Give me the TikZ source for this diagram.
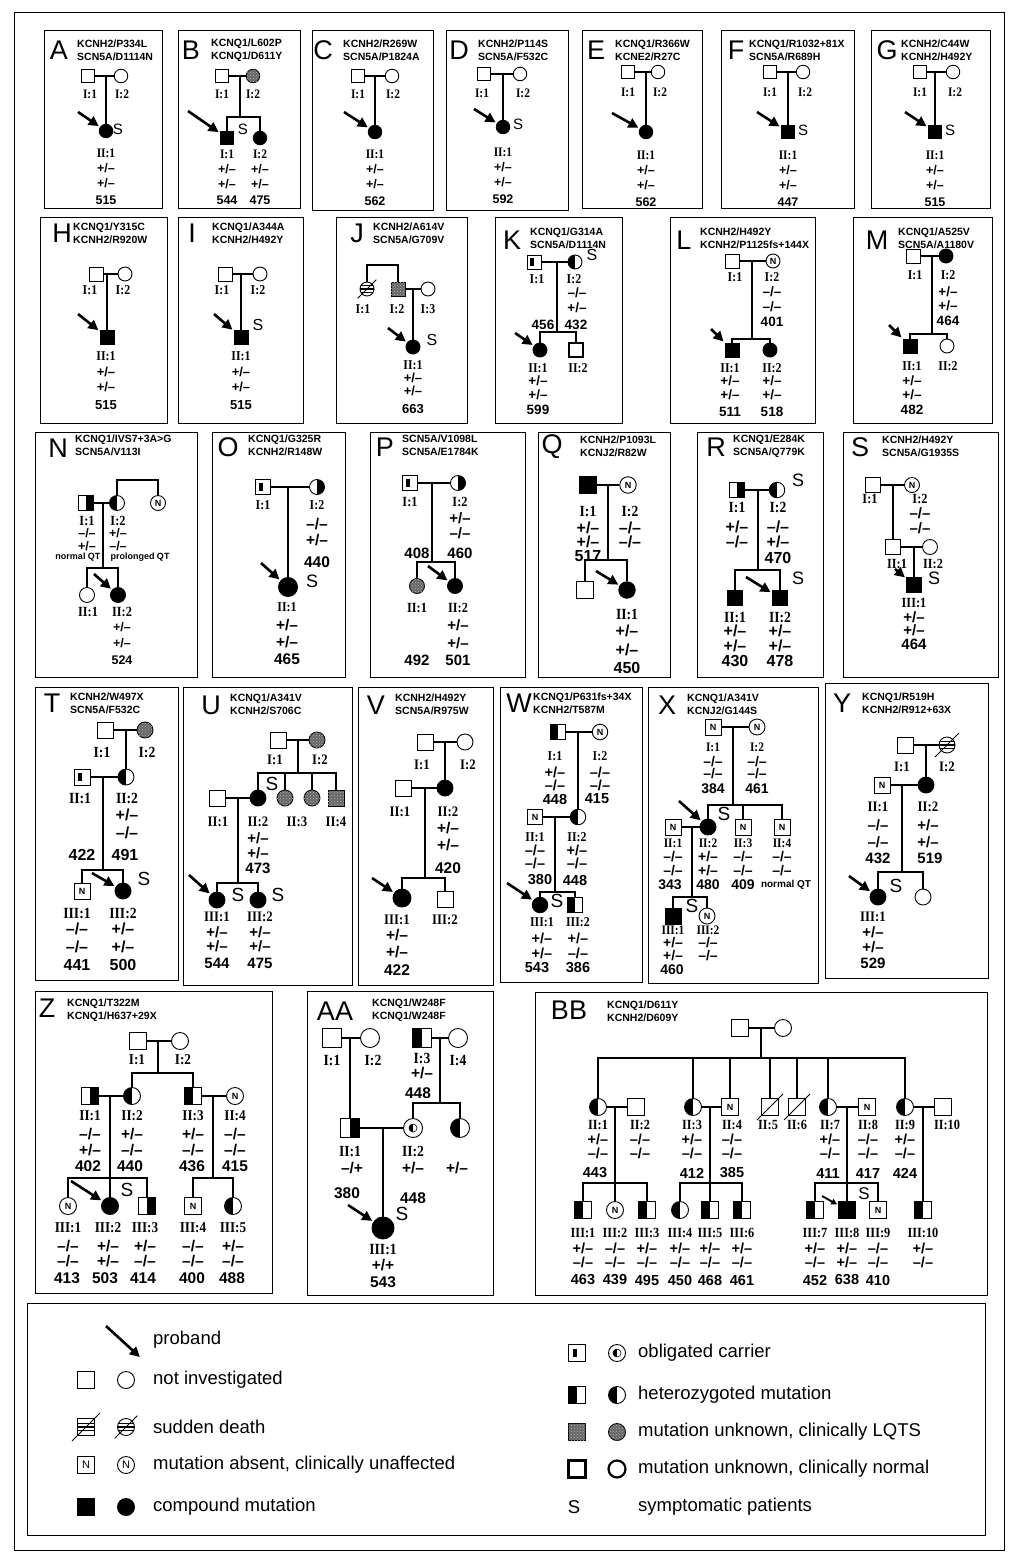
\documentclass[tikz,border=0pt]{standalone}
\usepackage{fontspec}
\setmainfont{Liberation Sans}
\newfontfamily\labserif[FakeStretch=0.88]{Liberation Serif}
\usetikzlibrary{arrows.meta,patterns}
\newcommand\Gpm{+/\textendash}
\newcommand\Gmm{\textendash/\textendash}
\newcommand\Gmp{\textendash/+}
\newcommand\Gpp{+/+}
\newcommand\ssz{13}
\newcommand\lsz{12}
\newcommand\gsz{11.5}
\newcommand\fsz{15}
\tikzset{
  frame/.style ={line width=0.9pt},
  plet/.style  ={font=\fontsize{27}{27}\selectfont, inner sep=0pt},
  gtxt/.style  ={font=\fontsize{10.5}{13}\selectfont\bfseries, align=left, anchor=west, inner sep=0pt},
  lab/.style   ={font=\fontsize{\lsz}{\lsz}\selectfont\labserif\bfseries, inner sep=0pt},
  val/.style   ={font=\fontsize{\gsz}{\gsz}\selectfont\bfseries, inner sep=0pt},
  note/.style  ={font=\fontsize{9}{9}\selectfont\bfseries, inner sep=0pt},
  sfl/.style   ={font=\fontsize{\fsz}{\fsz}\selectfont, inner sep=0pt},
  legt/.style  ={font=\fontsize{18.5}{18.5}\selectfont, anchor=west, inner sep=0pt},
  sym/.style   ={draw, line width=0.9pt, inner sep=0pt, minimum size=\ssz pt, fill=white, font=\fontsize{9}{9}\selectfont\bfseries},
  msym/.style  ={sym, rectangle},
  fsym/.style  ={sym, circle},
  cmpd/.style  ={fill=black},
  hetL/.style  ={path picture={\fill[black] (path picture bounding box.south west) rectangle (path picture bounding box.north);}},
  hetR/.style  ={path picture={\fill[black] (path picture bounding box.south) rectangle (path picture bounding box.north east);}},
  carM/.style  ={path picture={\fill[black] ([shift={(-4pt,-4pt)}]path picture bounding box.center) rectangle ([shift={(-0.3pt,4pt)}]path picture bounding box.center);}},
  carF/.style  ={path picture={
      \begin{scope}\clip (path picture bounding box.center) circle (4pt);
      \fill[black] ([shift={(-5pt,-5pt)}]path picture bounding box.center) rectangle ([yshift=5pt]path picture bounding box.center);
      \end{scope}
      \draw[black, line width=0.6pt] (path picture bounding box.center) circle (4pt);}},
  lqts/.style  ={fill=black!60, postaction={pattern=crosshatch dots, pattern color=white!70!black}},
  sdth/.style  ={path picture={\foreach \d in {-3.5,0,3.5}
      \draw[black, line width=1.3pt] ([yshift=\d pt]path picture bounding box.west) -- ([yshift=\d pt]path picture bounding box.east);}},
  thk/.style   ={line width=2.2pt},
  slash/.style ={line width=0.9pt},
  pl/.style    ={line width=1.8pt},
  prob/.style  ={-{Triangle[length=10pt,width=10pt]}, line width=2.6pt, shorten >=1.5pt},
  probs/.style ={-{Triangle[length=6pt,width=6pt]}, line width=1.8pt, shorten >=1pt},
}
\begin{document}
\begin{tikzpicture}[x=1pt,y=-1pt]
\useasboundingbox (0,0) rectangle (1015,1556);
\draw[line width=0.8pt] (14,12) rectangle (1004,1550);

% ================= row 1
\begin{scope}
\def\lsz{13}\def\gsz{12.5}\def\ssz{13.5}\def\fsz{15}
% A
\draw[frame] (44,30) rectangle (162,208);
\node[plet] (pA) at (59,50) {A};
\node[gtxt] (gA) at (77,50) {KCNH2/P334L\\SCN5A/D1114N};
\node[msym] (a11) at (88,76) {};
\node[fsym] (a12) at (121,76) {};
\node[fsym,cmpd] (a21) at (106,131) {};
\coordinate (am) at (106,76);
\draw[pl] (a11) -- (a12) (am) -- (a21);
\coordinate (aarr) at (78,112);
\draw[prob] (aarr) -- (a21);
\node[sfl] (aS) at (118,129) {S};
\foreach \x/\y/\t [count=\k] in {90/94/I:1, 122/94/I:2, 106/153/II:1}
  \node[lab] (A-l\k) at (\x,\y) {\t};
\foreach \x/\y/\t [count=\k] in {106/168/\Gpm, 106/183/\Gpm, 106/200/515}
  \node[val] (A-v\k) at (\x,\y) {\t};

% B
\draw[frame] (178,30) rectangle (300,208);
\node[plet] (pB) at (191,50) {B};
\node[gtxt] (gB) at (211,50) {KCNQ1/L602P\\KCNQ1/D611Y};
\node[msym] (b11) at (222,76) {};
\node[fsym,lqts] (b12) at (253,76) {};
\node[msym,cmpd] (b21) at (227,138) {};
\node[fsym,cmpd] (b22) at (260,138) {};
\coordinate (bm) at (240,76);
\coordinate (bs) at (240,117);
\draw[pl] (b11) -- (b12) (bm) -- (bs) (b21) |- (bs) -| (b22);
\coordinate (barr) at (188,111);
\draw[prob] (barr) -- (b21);
\node[sfl] (bS) at (243,129) {S};
\foreach \x/\y/\t [count=\k] in {222/94/I:1, 253/94/I:2, 227/154/I:1, 260/154/I:2}
  \node[lab] (B-l\k) at (\x,\y) {\t};
\foreach \x/\y/\t [count=\k] in {227/169/\Gpm, 260/169/\Gpm, 227/184/\Gpm, 260/184/\Gpm, 227/200/544, 260/200/475}
  \node[val] (B-v\k) at (\x,\y) {\t};

% C
\draw[frame] (312,30) rectangle (433,210);
\node[plet] (pC) at (323,50) {C};
\node[gtxt] (gC) at (343,50) {KCNH2/R269W\\SCN5A/P1824A};
\node[msym] (c11) at (358,76) {};
\node[fsym] (c12) at (392,76) {};
\node[fsym,cmpd] (c21) at (375,132) {};
\coordinate (cm) at (375,76);
\draw[pl] (c11) -- (c12) (cm) -- (c21);
\coordinate (carr) at (344,112);
\draw[prob] (carr) -- (c21);
\foreach \x/\y/\t [count=\k] in {358/94/I:1, 393/94/I:2, 375/154/II:1}
  \node[lab] (C-l\k) at (\x,\y) {\t};
\foreach \x/\y/\t [count=\k] in {375/169/\Gpm, 375/184/\Gpm, 375/201/562}
  \node[val] (C-v\k) at (\x,\y) {\t};

% D
\draw[frame] (446,30) rectangle (568,210);
\node[plet] (pD) at (459,50) {D};
\node[gtxt] (gD) at (478,50) {KCNH2/P114S\\SCN5A/F532C};
\node[msym] (d11) at (484,74) {};
\node[fsym] (d12) at (520,74) {};
\node[fsym,cmpd] (d21) at (503,127) {};
\coordinate (dm) at (503,74);
\draw[pl] (d11) -- (d12) (dm) -- (d21);
\coordinate (darr) at (474,109);
\draw[prob] (darr) -- (d21);
\node[sfl] (dS) at (518,124) {S};
\foreach \x/\y/\t [count=\k] in {482/93/I:1, 523/93/I:2, 503/152/II:1}
  \node[lab] (D-l\k) at (\x,\y) {\t};
\foreach \x/\y/\t [count=\k] in {503/167/\Gpm, 503/182/\Gpm, 503/199/592}
  \node[val] (D-v\k) at (\x,\y) {\t};

% E
\draw[frame] (582,30) rectangle (702,208);
\node[plet] (pE) at (596,50) {E};
\node[gtxt] (gE) at (615,50) {KCNQ1/R366W\\KCNE2/R27C};
\node[msym] (e11) at (628,72) {};
\node[fsym] (e12) at (658,72) {};
\node[fsym,cmpd] (e21) at (646,132) {};
\coordinate (em) at (646,72);
\draw[pl] (e11) -- (e12) (em) -- (e21);
\coordinate (earr) at (612,113);
\draw[prob] (earr) -- (e21);
\foreach \x/\y/\t [count=\k] in {628/92/I:1, 660/92/I:2, 646/155/II:1}
  \node[lab] (E-l\k) at (\x,\y) {\t};
\foreach \x/\y/\t [count=\k] in {646/170/\Gpm, 646/185/\Gpm, 646/202/562}
  \node[val] (E-v\k) at (\x,\y) {\t};

% F
\draw[frame] (721,30) rectangle (854,208);
\node[plet] (pF) at (736,50) {F};
\node[gtxt] (gF) at (749,50) {KCNQ1/R1032+81X\\SCN5A/R689H};
\node[msym] (f11) at (770,72) {};
\node[fsym] (f12) at (803,72) {};
\node[msym,cmpd] (f21) at (788,132) {};
\coordinate (fm) at (788,72);
\draw[pl] (f11) -- (f12) (fm) -- (f21);
\coordinate (farr) at (757,112);
\draw[prob] (farr) -- (f21);
\node[sfl] (fS) at (803,130) {S};
\foreach \x/\y/\t [count=\k] in {770/92/I:1, 805/92/I:2, 788/155/II:1}
  \node[lab] (F-l\k) at (\x,\y) {\t};
\foreach \x/\y/\t [count=\k] in {788/170/\Gpm, 788/185/\Gpm, 788/202/447}
  \node[val] (F-v\k) at (\x,\y) {\t};

% G
\draw[frame] (871,30) rectangle (990,208);
\node[plet] (pG) at (887,50) {G};
\node[gtxt] (gG) at (901,50) {KCNH2/C44W\\KCNH2/H492Y};
\node[msym] (g11) at (920,72) {};
\node[fsym] (g12) at (953,72) {};
\node[msym,cmpd] (g21) at (935,132) {};
\coordinate (gm) at (935,72);
\draw[pl] (g11) -- (g12) (gm) -- (g21);
\coordinate (garr) at (905,112);
\draw[prob] (garr) -- (g21);
\node[sfl] (gS) at (950,130) {S};
\foreach \x/\y/\t [count=\k] in {920/92/I:1, 955/92/I:2, 935/155/II:1}
  \node[lab] (G-l\k) at (\x,\y) {\t};
\foreach \x/\y/\t [count=\k] in {935/170/\Gpm, 935/185/\Gpm, 935/202/515}
  \node[val] (G-v\k) at (\x,\y) {\t};
\end{scope}

% ================= row 2
\begin{scope}
\def\lsz{13.5}\def\gsz{13}\def\ssz{14}\def\fsz{16}
% H
\draw[frame] (40,217) rectangle (167,423);
\node[plet] (pH) at (62,233) {H};
\node[gtxt] (gH) at (73,233) {KCNQ1/Y315C\\KCNH2/R920W};
\node[msym] (h11) at (96,274) {};
\node[fsym] (h12) at (125,274) {};
\node[msym,cmpd] (h21) at (107,337) {};
\coordinate (hm) at (107,274);
\draw[pl] (h11) -- (h12) (hm) -- (h21);
\coordinate (harr) at (78,314);
\draw[prob] (harr) -- (h21);
\foreach \x/\y/\t [count=\k] in {90/290/I:1, 123/290/I:2, 106/356/II:1}
  \node[lab] (H-l\k) at (\x,\y) {\t};
\foreach \x/\y/\t [count=\k] in {106/372/\Gpm, 106/387/\Gpm, 106/405/515}
  \node[val] (H-v\k) at (\x,\y) {\t};

% I
\draw[frame] (178,217) rectangle (303,423);
\node[plet] (pI) at (192,233) {I};
\node[gtxt] (gI) at (212,233) {KCNQ1/A344A\\KCNH2/H492Y};
\node[msym] (i11) at (225,274) {};
\node[fsym] (i12) at (260,274) {};
\node[msym,cmpd] (i21) at (241,337) {};
\coordinate (im) at (241,274);
\draw[pl] (i11) -- (i12) (im) -- (i21);
\coordinate (iarr) at (214,314);
\draw[prob] (iarr) -- (i21);
\node[sfl] (iS) at (258,325) {S};
\foreach \x/\y/\t [count=\k] in {222/290/I:1, 258/290/I:2, 241/356/II:1}
  \node[lab] (I-l\k) at (\x,\y) {\t};
\foreach \x/\y/\t [count=\k] in {241/372/\Gpm, 241/387/\Gpm, 241/405/515}
  \node[val] (I-v\k) at (\x,\y) {\t};

% J
\draw[frame] (336,217) rectangle (467,423);
\node[plet] (pJ) at (357,233) {J};
\node[gtxt] (gJ) at (373,233) {KCNH2/A614V\\SCN5A/G709V};
\node[fsym,sdth] (j11) at (367,289) {};
\node[msym,lqts] (j12) at (398,289) {};
\node[fsym] (j13) at (428,289) {};
\node[fsym,cmpd] (j21) at (413,347) {};
\coordinate (js) at (383,265);
\coordinate (jm) at (413,289);
\draw[pl] (j11) |- (js) -| (j12) (j12) -- (j13) (jm) -- (j21);
\draw[slash] ([shift={(-4pt,-4pt)}]j11.south west) -- ([shift={(4pt,4pt)}]j11.north east);
\coordinate (jarr) at (388,328);
\draw[prob] (jarr) -- (j21);
\node[sfl] (jS) at (432,340) {S};
\foreach \x/\y/\t [count=\k] in {363/309/I:1, 397/309/I:2, 428/309/I:3, 413/365/II:1}
  \node[lab] (J-l\k) at (\x,\y) {\t};
\foreach \x/\y/\t [count=\k] in {413/378/\Gpm, 413/391/\Gpm, 413/409/663}
  \node[val] (J-v\k) at (\x,\y) {\t};

\def\gsz{13.5}
% K
\draw[frame] (495,217) rectangle (622,423);
\node[plet] (pK) at (512,240) {K};
\node[gtxt] (gK) at (530,238) {KCNQ1/G314A\\SCN5A/D1114N};
\node[msym,carM] (k11) at (534,262) {};
\node[fsym,hetL] (k12) at (575,262) {};
\node[fsym,cmpd] (k21) at (540,350) {};
\node[msym,thk] (k22) at (576,350) {};
\coordinate (km) at (557,262);
\coordinate (ks) at (557,332);
\draw[pl] (k11) -- (k12) (km) -- (ks) (k21) |- (ks) -| (k22);
\coordinate (karr) at (515,333);
\draw[prob] (karr) -- (k21);
\node[sfl] (kS) at (592,255) {S};
\foreach \x/\y/\t [count=\k] in {537/279/I:1, 574/279/I:2, 538/368/II:1, 578/368/II:2}
  \node[lab] (K-l\k) at (\x,\y) {\t};
\foreach \x/\y/\t [count=\k] in {577/293/\Gmm, 577/308/\Gpm, 543/325/456, 576/325/432, 538/381/\Gpm, 538/395/\Gpm, 538/410/599}
  \node[val] (K-v\k) at (\x,\y) {\t};

% L
\draw[frame] (670,217) rectangle (815,423);
\node[plet] (pL) at (684,240) {L};
\node[gtxt] (gL) at (700,238) {KCNH2/H492Y\\KCNH2/P1125fs+144X};
\node[msym] (l11) at (732,261) {};
\node[fsym] (l12) at (773,261) {N};
\node[msym,cmpd] (l21) at (732,350) {};
\node[fsym,cmpd] (l22) at (770,350) {};
\coordinate (lm) at (752,261);
\coordinate (ls) at (752,339);
\draw[pl] (l11) -- (l12) (lm) -- (ls) (l21) |- (ls) -| (l22);
\coordinate (larr) at (711,329);
\draw[prob] (larr) -- (l21);
\foreach \x/\y/\t [count=\k] in {735/277/I:1, 772/277/I:2, 730/368/II:1, 772/368/II:2}
  \node[lab] (L-l\k) at (\x,\y) {\t};
\foreach \x/\y/\t [count=\k] in {772/292/\Gmm, 772/307/\Gmm, 772/322/401, 730/381/\Gpm, 772/381/\Gpm, 730/395/\Gpm, 772/395/\Gpm, 730/412/511, 772/412/518}
  \node[val] (L-v\k) at (\x,\y) {\t};

% M
\draw[frame] (853,217) rectangle (992,423);
\node[plet] (pM) at (877,240) {M};
\node[gtxt] (gM) at (898,238) {KCNQ1/A525V\\SCN5A/A1180V};
\node[msym] (m11) at (913,256) {};
\node[fsym,cmpd] (m12) at (946,256) {};
\node[msym,cmpd] (m21) at (910,346) {};
\node[fsym] (m22) at (947,346) {};
\coordinate (mm) at (932,256);
\coordinate (ms) at (932,334);
\draw[pl] (m11) -- (m12) (mm) -- (ms) (m21) |- (ms) -| (m22);
\coordinate (marr) at (889,325);
\draw[prob] (marr) -- (m21);
\foreach \x/\y/\t [count=\k] in {915/275/I:1, 948/275/I:2, 912/366/II:1, 948/366/II:2}
  \node[lab] (M-l\k) at (\x,\y) {\t};
\foreach \x/\y/\t [count=\k] in {948/292/\Gpm, 948/306/\Gpm, 948/321/464, 912/381/\Gpm, 912/395/\Gpm, 912/410/482}
  \node[val] (M-v\k) at (\x,\y) {\t};
\end{scope}

% ================= row 3
\begin{scope}
\def\fsz{18}
% N
\def\lsz{14}\def\gsz{12.5}\def\ssz{15}
\draw[frame] (35,432) rectangle (197,677);
\node[plet] (pN) at (58,448) {N};
\node[gtxt] (gN) at (75,445) {KCNQ1/IVS7+3A>G\\SCN5A/V113I};
\node[msym,hetR] (n11) at (86,503) {};
\node[fsym,hetL] (n12) at (117,503) {};
\node[fsym] (n13) at (158,503) {N};
\node[fsym] (n21) at (87,595) {};
\node[fsym,cmpd] (n22) at (118,595) {};
\coordinate (nt) at (138,480);
\coordinate (nm) at (103,503);
\coordinate (ns) at (103,568);
\draw[pl] (n12) |- (nt) -| (n13) (n11) -- (n12) (nm) -- (ns) (n21) |- (ns) -| (n22);
\coordinate (narr) at (94,574);
\draw[prob] (narr) -- (n22);
\foreach \x/\y/\t [count=\k] in {87/521/I:1, 118/521/I:2, 88/612/II:1, 122/612/II:2}
  \node[lab] (N-l\k) at (\x,\y) {\t};
\foreach \x/\y/\t [count=\k] in {87/533/\Gmm, 118/533/\Gpm, 87/546/\Gpm, 118/546/\Gmm, 122/627/\Gpm, 122/643/\Gpm, 122/660/524}
  \node[val] (N-v\k) at (\x,\y) {\t};
\node[note] (nq1) at (78,557) {normal QT};
\node[note] (nq2) at (140,557) {prolonged QT};

% O
\def\lsz{13.5}\def\gsz{15.5}\def\ssz{15}
\draw[frame] (212,432) rectangle (345,677);
\node[plet] (pO) at (228,447) {O};
\node[gtxt] (gO) at (248,445) {KCNQ1/G325R\\KCNH2/R148W};
\node[msym,carM] (o11) at (263,487) {};
\node[fsym,hetR] (o12) at (317,487) {};
\node[fsym,cmpd,minimum size=19pt] (o21) at (288,587) {};
\coordinate (om) at (288,487);
\draw[pl] (o11) -- (o12) (om) -- (o21);
\coordinate (oarr) at (261,563);
\draw[prob] (oarr) -- (o21);
\node[sfl] (oS) at (312,581) {S};
\foreach \x/\y/\t [count=\k] in {263/505/I:1, 317/505/I:2, 287/607/II:1}
  \node[lab] (O-l\k) at (\x,\y) {\t};
\foreach \x/\y/\t [count=\k] in {317/524/\Gmm, 317/540/\Gpm, 317/562/440, 287/625/\Gpm, 287/642/\Gpm, 287/659/465}
  \node[val] (O-v\k) at (\x,\y) {\t};

% P
\def\lsz{14}\def\gsz{15}
\draw[frame] (370,432) rectangle (525,677);
\node[plet] (pP) at (385,447) {P};
\node[gtxt] (gP) at (402,445) {SCN5A/V1098L\\SCN5A/E1784K};
\node[msym,carM] (p11) at (410,483) {};
\node[fsym,hetR] (p12) at (458,483) {};
\node[fsym,lqts] (p21) at (417,586) {};
\node[fsym,cmpd] (p22) at (455,586) {};
\coordinate (pm) at (432,483);
\coordinate (ps) at (432,562);
\draw[pl] (p11) -- (p12) (pm) -- (ps) (p21) |- (ps) -| (p22);
\coordinate (parr) at (428,566);
\draw[prob] (parr) -- (p22);
\foreach \x/\y/\t [count=\k] in {410/502/I:1, 460/502/I:2, 417/608/II:1, 458/608/II:2}
  \node[lab] (P-l\k) at (\x,\y) {\t};
\foreach \x/\y/\t [count=\k] in {460/518/\Gpm, 460/533/\Gmm, 417/553/408, 460/553/460, 458/625/\Gpm, 458/643/\Gpm, 417/660/492, 458/660/501}
  \node[val] (P-v\k) at (\x,\y) {\t};

% Q
\def\ssz{16.5}\def\lsz{15.5}\def\gsz{16}
\draw[frame] (538,432) rectangle (670,677);
\node[plet] (pQ) at (552,447) {Q};
\node[gtxt] (gQ) at (580,446) {KCNH2/P1093L\\KCNJ2/R82W};
\node[msym,cmpd] (q11) at (588,485) {};
\node[fsym] (q12) at (628,485) {N};
\node[msym] (q21) at (585,590) {};
\node[fsym,cmpd] (q22) at (627,590) {};
\coordinate (qm) at (608,485);
\coordinate (qs) at (608,560);
\draw[pl] (q11) -- (q12) (qm) -- (qs) (q21) |- (qs) -| (q22);
\coordinate (qarr) at (596,571);
\draw[prob] (qarr) -- (q22);
\foreach \x/\y/\t [count=\k] in {588/511/I:1, 630/511/I:2, 627/614/II:1}
  \node[lab] (Q-l\k) at (\x,\y) {\t};
\foreach \x/\y/\t [count=\k] in {588/528/\Gpm, 588/542/\Gpm, 588/556/517, 630/528/\Gmm, 630/542/\Gmm, 627/631/\Gpm, 627/650/\Gpm, 627/668/450}
  \node[val] (Q-v\k) at (\x,\y) {\t};

% R
\def\ssz{15.5}
\draw[frame] (697,432) rectangle (823,677);
\node[plet] (pR) at (716,447) {R};
\node[gtxt] (gR) at (733,446) {KCNQ1/E284K\\SCN5A/Q779K};
\node[msym,hetR] (r11) at (737,490) {};
\node[fsym,hetL] (r12) at (777,490) {};
\node[msym,cmpd] (r21) at (735,598) {};
\node[msym,cmpd] (r22) at (780,598) {};
\coordinate (rm) at (758,490);
\coordinate (rs) at (758,570);
\draw[pl] (r11) -- (r12) (rm) -- (rs) (r21) |- (rs) -| (r22);
\coordinate (rarr) at (746,577);
\draw[prob] (rarr) -- (r22);
\node[sfl] (rS1) at (798,480) {S};
\node[sfl] (rS2) at (798,578) {S};
\foreach \x/\y/\t [count=\k] in {737/507/I:1, 778/507/I:2, 735/617/II:1, 780/617/II:2}
  \node[lab] (R-l\k) at (\x,\y) {\t};
\foreach \x/\y/\t [count=\k] in {737/527/\Gpm, 737/542/\Gmm, 778/527/\Gmm, 778/542/\Gpm, 778/558/470, 735/631/\Gpm, 780/631/\Gpm, 735/646/\Gpm, 780/646/\Gpm, 735/661/430, 780/661/478}
  \node[val] (R-v\k) at (\x,\y) {\t};

% S
\def\ssz{15}\def\lsz{14}\def\gsz{15}
\draw[frame] (843,432) rectangle (998,677);
\node[plet] (pS) at (860,447) {S};
\node[gtxt] (gS) at (882,446) {KCNH2/H492Y\\SCN5A/G1935S};
\node[msym] (s11) at (873,485) {};
\node[fsym] (s12) at (912,485) {N};
\node[msym] (s21) at (893,547) {};
\node[fsym] (s22) at (930,547) {};
\node[msym,cmpd] (s31) at (914,585) {};
\coordinate (sm) at (893,485);
\coordinate (s2m) at (914,547);
\draw[pl] (s11) -- (s12) (sm) -- (s21) (s21) -- (s22) (s2m) -- (s31);
\coordinate (sarr) at (895,569);
\draw[prob] (sarr) -- (s31);
\node[sfl] (sS) at (934,578) {S};
\foreach \x/\y/\t [count=\k] in {870/499/I:1, 920/499/I:2, 897/564/II:1, 933/564/II:2, 914/603/III:1}
  \node[lab] (S-l\k) at (\x,\y) {\t};
\foreach \x/\y/\t [count=\k] in {920/513/\Gmm, 920/528/\Gmm, 914/617/\Gpm, 914/630/\Gpm, 914/644/464}
  \node[val] (S-v\k) at (\x,\y) {\t};
\end{scope}

% ================= row 4
\begin{scope}
\def\fsz{19}
% T
\def\lsz{15.5}\def\gsz{16}\def\ssz{16}
\draw[frame] (35,687) rectangle (178,980);
\node[plet] (pT) at (52,703) {T};
\node[gtxt] (gT) at (70,703) {KCNH2/W497X\\SCN5A/F532C};
\node[msym] (t11) at (105,730) {};
\node[fsym,lqts] (t12) at (145,730) {};
\node[msym,carM] (t21) at (82,777) {};
\node[fsym,hetL] (t22) at (126,777) {};
\node[msym] (t31) at (82,891) {N};
\node[fsym,cmpd] (t32) at (123,891) {};
\coordinate (tm) at (126,730);
\coordinate (t2m) at (103,777);
\coordinate (ts) at (103,870);
\draw[pl] (t11) -- (t12) (tm) -- (t22) (t21) -- (t22) (t2m) -- (ts) (t31) |- (ts) -| (t32);
\coordinate (tarr) at (92,873);
\draw[prob] (tarr) -- (t32);
\node[sfl] (tS) at (144,879) {S};
\foreach \x/\y/\t [count=\k] in {102/752/I:1, 147/752/I:2, 80/798/II:1, 127/798/II:2, 77/913/III:1, 123/913/III:2}
  \node[lab] (T-l\k) at (\x,\y) {\t};
\foreach \x/\y/\t [count=\k] in {127/815/\Gpm, 127/833/\Gmm, 82/855/422, 125/855/491, 77/929/\Gmm, 123/929/\Gpm, 77/947/\Gmm, 123/947/\Gpm, 77/965/441, 123/965/500}
  \node[val] (T-v\k) at (\x,\y) {\t};

% U
\def\lsz{14.5}\def\gsz{15}\def\ssz{16}
\draw[frame] (183,687) rectangle (352,985);
\node[plet] (pU) at (211,705) {U};
\node[gtxt] (gU) at (230,704) {KCNQ1/A341V\\KCNH2/S706C};
\node[msym] (u11) at (278,740) {};
\node[fsym,lqts] (u12) at (317,740) {};
\node[msym] (u21) at (217,798) {};
\node[fsym,cmpd] (u22) at (258,798) {};
\node[fsym,lqts] (u23) at (285,798) {};
\node[fsym,lqts] (u24) at (312,798) {};
\node[msym,lqts] (u25) at (336,798) {};
\node[fsym,cmpd] (u31) at (217,900) {};
\node[fsym,cmpd] (u32) at (258,900) {};
\coordinate (um) at (298,740);
\coordinate (us) at (298,773);
\coordinate (u2m) at (238,798);
\coordinate (u2s) at (238,883);
\draw[pl] (u11) -- (u12) (um) -- (us) (u22) |- (us) -| (u25) (u23) |- (us) (u24) |- (us);
\draw[pl] (u21) -- (u22) (u2m) -- (u2s) (u31) |- (u2s) -| (u32);
\coordinate (uarr) at (189,875);
\draw[prob] (uarr) -- (u31);
\node[sfl] (uS1) at (272,784) {S};
\node[sfl] (uS2) at (238,895) {S};
\node[sfl] (uS3) at (278,895) {S};
\foreach \x/\y/\t [count=\k] in {275/760/I:1, 320/760/I:2, 218/822/II:1, 258/822/II:2, 297/822/II:3, 336/822/II:4, 217/917/III:1, 260/917/III:2}
  \node[lab] (U-l\k) at (\x,\y) {\t};
\foreach \x/\y/\t [count=\k] in {258/838/\Gpm, 258/853/\Gpm, 258/868/473, 217/932/\Gpm, 260/932/\Gpm, 217/946/\Gpm, 260/946/\Gpm, 217/963/544, 260/963/475}
  \node[val] (U-v\k) at (\x,\y) {\t};

% V
\def\lsz{14.5}\def\gsz{15.5}\def\ssz{16}
\draw[frame] (358,687) rectangle (493,985);
\node[plet] (pV) at (376,705) {V};
\node[gtxt] (gV) at (395,704) {KCNH2/H492Y\\SCN5A/R975W};
\node[msym] (v11) at (425,742) {};
\node[fsym] (v12) at (465,742) {};
\node[msym] (v21) at (403,788) {};
\node[fsym,cmpd] (v22) at (445,788) {};
\node[fsym,cmpd,minimum size=18pt] (v31) at (402,898) {};
\node[msym] (v32) at (445,899) {};
\coordinate (vm) at (445,742);
\coordinate (v2m) at (425,788);
\coordinate (vs) at (425,878);
\draw[pl] (v11) -- (v12) (vm) -- (v22) (v21) -- (v22) (v2m) -- (vs) (v31) |- (vs) -| (v32);
\coordinate (varr) at (372,878);
\draw[prob] (varr) -- (v31);
\foreach \x/\y/\t [count=\k] in {422/765/I:1, 468/765/I:2, 400/812/II:1, 448/812/II:2, 397/920/III:1, 445/920/III:2}
  \node[lab] (V-l\k) at (\x,\y) {\t};
\foreach \x/\y/\t [count=\k] in {448/828/\Gpm, 448/845/\Gpm, 448/868/420, 397/935/\Gpm, 397/952/\Gpm, 397/970/422}
  \node[val] (V-v\k) at (\x,\y) {\t};

% W
\def\ssz{15.5}\def\gsz{14.5}\def\lsz{13.5}
\draw[frame] (500,687) rectangle (642,982);
\node[plet] (pW) at (519,703) {W};
\node[gtxt] (gW) at (533,703) {KCNQ1/P631fs+34X\\KCNH2/T587M};
\node[msym,hetL] (w11) at (558,732) {};
\node[fsym] (w12) at (600,732) {N};
\node[msym] (w21) at (535,817) {N};
\node[fsym,hetL] (w22) at (578,817) {};
\node[fsym,cmpd] (w31) at (540,905) {};
\node[msym,hetL] (w32) at (575,905) {};
\coordinate (wm) at (578,732);
\coordinate (w2m) at (555,817);
\coordinate (ws) at (555,892);
\draw[pl] (w11) -- (w12) (wm) -- (w22) (w21) -- (w22) (w2m) -- (ws) (w31) |- (ws) -| (w32);
\coordinate (warr) at (507,883);
\draw[prob] (warr) -- (w31);
\node[sfl] (wS) at (557,901) {S};
\foreach \x/\y/\t [count=\k] in {555/756/I:1, 600/756/I:2, 535/837/II:1, 577/837/II:2, 542/922/III:1, 578/922/III:2}
  \node[lab] (W-l\k) at (\x,\y) {\t};
\foreach \x/\y/\t [count=\k] in {555/772/\Gpm, 555/785/\Gmm, 555/799/448, 600/772/\Gmm, 600/785/\Gmm, 597/799/415, 535/850/\Gmm, 535/863/\Gmm, 577/850/\Gpm, 577/863/\Gmm, 540/880/380, 575/880/448, 542/938/\Gpm, 578/938/\Gpm, 542/953/\Gpm, 578/953/\Gmm, 537/968/543, 578/968/386}
  \node[val] (W-v\k) at (\x,\y) {\t};

% X
\def\ssz{16}\def\gsz{14}\def\lsz{13}
\draw[frame] (648,687) rectangle (818,983);
\node[plet] (pX) at (667,705) {X};
\node[gtxt] (gX) at (687,704) {KCNQ1/A341V\\KCNJ2/G144S};
\node[msym] (x11) at (713,727) {N};
\node[fsym] (x12) at (757,727) {N};
\node[msym] (x21) at (673,827) {N};
\node[fsym,cmpd] (x22) at (708,827) {};
\node[msym] (x23) at (743,827) {N};
\node[msym] (x24) at (782,827) {N};
\node[msym,cmpd] (x31) at (673,916) {};
\node[fsym] (x32) at (707,916) {N};
\coordinate (xm) at (733,727);
\coordinate (xs) at (733,805);
\coordinate (x2m) at (692,827);
\coordinate (x2s) at (692,897);
\draw[pl] (x11) -- (x12) (xm) -- (xs) (x22) |- (xs) -| (x24) (x23) |- (xs);
\draw[pl] (x21) -- (x22) (x2m) -- (x2s) (x31) |- (x2s) -| (x32);
\coordinate (xarr) at (679,801);
\draw[prob] (xarr) -- (x22);
\node[sfl] (xS1) at (724,814) {S};
\node[sfl] (xS2) at (692,906) {S};
\foreach \x/\y/\t [count=\k] in {713/747/I:1, 757/747/I:2, 673/843/II:1, 708/843/II:2, 743/843/II:3, 782/843/II:4, 673/930/III:1, 708/930/III:2}
  \node[lab] (X-l\k) at (\x,\y) {\t};
\foreach \x/\y/\t [count=\k] in {713/762/\Gmm, 713/774/\Gmm, 713/789/384, 757/762/\Gmm, 757/774/\Gmm, 757/789/461, 673/857/\Gmm, 708/857/\Gpm, 743/857/\Gmm, 782/857/\Gmm, 673/871/\Gmm, 708/871/\Gpm, 743/871/\Gmm, 782/871/\Gmm, 670/885/343, 708/885/480, 743/885/409, 673/943/\Gpm, 708/943/\Gmm, 673/956/\Gpm, 708/956/\Gmm, 672/970/460}
  \node[val] (X-v\k) at (\x,\y) {\t};
\node[note, font=\fontsize{10}{10}\selectfont\bfseries] (xq) at (786,885) {normal QT};

% Y
\def\ssz{16}\def\gsz{15}\def\lsz{14.5}
\draw[frame] (825,683) rectangle (988,978);
\node[plet] (pY) at (842,703) {Y};
\node[gtxt] (gY) at (862,703) {KCNQ1/R519H\\KCNH2/R912+63X};
\node[msym] (y11) at (905,745) {};
\node[fsym,sdth] (y12) at (947,745) {};
\node[msym] (y21) at (882,785) {N};
\node[fsym,cmpd] (y22) at (926,785) {};
\node[fsym,cmpd] (y31) at (878,897) {};
\node[fsym] (y32) at (923,897) {};
\coordinate (ym) at (926,745);
\coordinate (y2m) at (902,785);
\coordinate (ys) at (902,872);
\draw[pl] (y11) -- (y12) (ym) -- (y22) (y21) -- (y22) (y2m) -- (ys) (y31) |- (ys) -| (y32);
\draw[slash] ([shift={(-6pt,-6pt)}]y12.south west) -- ([shift={(6pt,6pt)}]y12.north east);
\coordinate (yarr) at (849,876);
\draw[prob] (yarr) -- (y31);
\node[sfl] (yS) at (896,886) {S};
\foreach \x/\y/\t [count=\k] in {902/767/I:1, 947/767/I:2, 878/807/II:1, 928/807/II:2, 873/917/III:1}
  \node[lab] (Y-l\k) at (\x,\y) {\t};
\foreach \x/\y/\t [count=\k] in {878/825/\Gmm, 878/842/\Gmm, 878/858/432, 928/825/\Gpm, 928/842/\Gpm, 930/858/519, 873/932/\Gpm, 873/947/\Gpm, 873/963/529}
  \node[val] (Y-v\k) at (\x,\y) {\t};
\end{scope}

% ================= row 5
\begin{scope}
\def\fsz{19}
% Z
\def\lsz{15}\def\gsz{15.5}\def\ssz{17}
\draw[frame] (35,991) rectangle (272,1293);
\node[plet] (pZ) at (47,1008) {Z};
\node[gtxt] (gZ) at (67,1010) {KCNQ1/T322M\\KCNQ1/H637+29X};
\node[msym] (z11) at (138,1041) {};
\node[fsym] (z12) at (180,1041) {};
\node[msym,hetR] (z21) at (90,1096) {};
\node[fsym,hetL] (z22) at (132,1096) {};
\node[msym,hetL] (z23) at (193,1096) {};
\node[fsym] (z24) at (235,1096) {N};
\node[fsym] (z31) at (68,1206) {N};
\node[fsym,cmpd] (z32) at (110,1206) {};
\node[msym,hetR] (z33) at (147,1206) {};
\node[msym] (z34) at (193,1206) {N};
\node[fsym,hetL] (z35) at (233,1206) {};
\coordinate (zm) at (158,1041);
\coordinate (zs) at (158,1073);
\coordinate (z2m) at (110,1096);
\coordinate (z2s) at (110,1178);
\coordinate (z3m) at (213,1096);
\coordinate (z3s) at (213,1178);
\draw[pl] (z11) -- (z12) (zm) -- (zs) (z22) |- (zs) -| (z23);
\draw[pl] (z21) -- (z22) (z2m) -- (z2s) (z31) |- (z2s) -| (z33) (z2s) -- (z32);
\draw[pl] (z23) -- (z24) (z3m) -- (z3s) (z34) |- (z3s) -| (z35);
\coordinate (zarr) at (71,1181);
\draw[prob] (zarr) -- (z32);
\node[sfl] (zS) at (127,1190) {S};
\foreach \x/\y/\t [count=\k] in {137/1060/I:1, 183/1060/I:2, 90/1116/II:1, 132/1116/II:2, 193/1116/II:3, 235/1116/II:4, 68/1228/III:1, 108/1228/III:2, 145/1228/III:3, 193/1228/III:4, 233/1228/III:5}
  \node[lab] (Z-l\k) at (\x,\y) {\t};
\foreach \x/\y/\t [count=\k] in {90/1134/\Gmm, 132/1134/\Gpm, 193/1134/\Gpm, 235/1134/\Gmm, 90/1150/\Gpm, 132/1150/\Gmm, 193/1150/\Gmm, 235/1150/\Gmm, 88/1166/402, 130/1166/440, 192/1166/436, 235/1166/415}
  \node[val] (Z-v\k) at (\x,\y) {\t};
\foreach \x/\y/\t [count=\k] in {68/1246/\Gmm, 108/1246/\Gpm, 145/1246/\Gpm, 193/1246/\Gmm, 233/1246/\Gpm, 68/1261/\Gmm, 108/1261/\Gpm, 145/1261/\Gmm, 193/1261/\Gmm, 233/1261/\Gmm, 67/1278/413, 105/1278/503, 143/1278/414, 192/1278/400, 232/1278/488}
  \node[val] (Z-w\k) at (\x,\y) {\t};

% AA
\def\lsz{15.5}\def\gsz{15.5}\def\ssz{19}
\draw[frame] (307,991) rectangle (493,1295);
\node[plet] (pAA) at (335,1011) {AA};
\node[gtxt] (gAA) at (372,1010) {KCNQ1/W248F\\KCNQ1/W248F};
\node[msym] (aa11) at (332,1038) {};
\node[fsym] (aa12) at (370,1038) {};
\node[msym,hetL] (aa13) at (422,1038) {};
\node[fsym] (aa14) at (458,1038) {};
\node[msym,hetR] (aa21) at (350,1128) {};
\node[fsym,carF] (aa22) at (413,1128) {};
\node[fsym,hetL] (aa23) at (460,1128) {};
\node[fsym,cmpd,minimum size=22pt] (aa31) at (383,1228) {};
\coordinate (aam) at (350,1038);
\coordinate (aam2) at (440,1038);
\coordinate (aas) at (440,1103);
\coordinate (aa3m) at (383,1128);
\draw[pl] (aa11) -- (aa12) (aam) -- (aa21) (aa13) -- (aa14) (aam2) -- (aas) (aa22) |- (aas) -| (aa23);
\draw[pl] (aa21) -- (aa22) (aa3m) -- (aa31);
\coordinate (aaarr) at (348,1205);
\draw[prob] (aaarr) -- (aa31);
\node[sfl] (aaS) at (402,1214) {S};
\foreach \x/\y/\t [count=\k] in {332/1060/I:1, 373/1060/I:2, 422/1058/I:3, 458/1060/I:4, 350/1151/II:1, 413/1151/II:2, 383/1249/III:1}
  \node[lab] (AA-l\k) at (\x,\y) {\t};
\foreach \x/\y/\t [count=\k] in {422/1073/\Gpm, 418/1093/448, 352/1168/\Gmp, 413/1168/\Gpm, 457/1168/\Gpm, 347/1193/380, 413/1198/448, 383/1265/\Gpp, 383/1282/543}
  \node[val] (AA-v\k) at (\x,\y) {\t};

% BB
\def\lsz{14}\def\gsz{14.5}\def\ssz{17}
\draw[frame] (535,992) rectangle (987,1295);
\node[plet] (pBB) at (569,1010) {BB};
\node[gtxt] (gBB) at (607,1011) {KCNQ1/D611Y\\KCNH2/D609Y};
\node[msym] (bb11) at (740,1028) {};
\node[fsym] (bb12) at (783,1028) {};
\node[fsym,hetL] (bb21) at (598,1107) {};
\node[msym] (bb22) at (636,1107) {};
\node[fsym,hetL] (bb23) at (693,1107) {};
\node[msym] (bb24) at (730,1107) {N};
\node[msym] (bb25) at (770,1107) {};
\node[msym] (bb26) at (797,1107) {};
\node[fsym,hetL] (bb27) at (828,1107) {};
\node[msym] (bb28) at (867,1107) {N};
\node[fsym,hetL] (bb29) at (905,1107) {};
\node[msym] (bb210) at (943,1107) {};
\node[msym,hetL] (bb31) at (583,1210) {};
\node[fsym] (bb32) at (615,1210) {N};
\node[msym,hetL] (bb33) at (647,1210) {};
\node[fsym,hetL] (bb34) at (680,1210) {};
\node[msym,hetL] (bb35) at (710,1210) {};
\node[msym,hetL] (bb36) at (742,1210) {};
\node[msym,hetL] (bb37) at (815,1210) {};
\node[msym,cmpd] (bb38) at (847,1210) {};
\node[msym] (bb39) at (878,1210) {N};
\node[msym,hetL] (bb310) at (923,1210) {};
\coordinate (bbm) at (761,1028);
\coordinate (bbs) at (761,1058);
\coordinate (bbm1) at (615,1107);
\coordinate (bbs1) at (615,1183);
\coordinate (bbm2) at (710,1107);
\coordinate (bbs2) at (710,1183);
\coordinate (bbm3) at (847,1107);
\coordinate (bbs3) at (847,1183);
\coordinate (bbm4) at (923,1107);
\draw[pl] (bb11) -- (bb12) (bbm) -- (bbs) (bb21) |- (bbs) -| (bb29);
\draw[pl] (bb23) |- (bbs) (bb24) |- (bbs) (bb25) |- (bbs) (bb26) |- (bbs) (bb27) |- (bbs);
\draw[pl] (bb21) -- (bb22) (bbm1) -- (bbs1) (bb31) |- (bbs1) -| (bb33) (bbs1) -- (bb32);
\draw[pl] (bb23) -- (bb24) (bbm2) -- (bbs2) (bb34) |- (bbs2) -| (bb36) (bbs2) -- (bb35);
\draw[pl] (bb27) -- (bb28) (bbm3) -- (bbs3) (bb37) |- (bbs3) -| (bb39) (bbs3) -- (bb38);
\draw[pl] (bb29) -- (bb210) (bbm4) -- (bb310);
\draw[slash] ([shift={(-4pt,-4pt)}]bb25.south west) -- ([shift={(4pt,4pt)}]bb25.north east);
\draw[slash] ([shift={(-4pt,-4pt)}]bb26.south west) -- ([shift={(4pt,4pt)}]bb26.north east);
\coordinate (bbarr) at (822,1196);
\draw[probs] (bbarr) -- (bb38);
\node[sfl, font=\fontsize{17}{17}\selectfont] (bbS) at (864,1194) {S};
\foreach \x/\y/\t [count=\k] in {598/1125/II:1, 640/1125/II:2, 692/1125/II:3, 732/1125/II:4, 768/1125/II:5, 797/1125/II:6, 830/1125/II:7, 868/1125/II:8, 905/1125/II:9, 947/1125/II:10}
  \node[lab] (BB-l\k) at (\x,\y) {\t};
\foreach \x/\y/\t [count=\k] in {583/1233/III:1, 615/1233/III:2, 647/1233/III:3, 680/1233/III:4, 710/1233/III:5, 742/1233/III:6, 815/1233/III:7, 847/1233/III:8, 878/1233/III:9, 923/1233/III:10}
  \node[lab] (BB-m\k) at (\x,\y) {\t};
\foreach \x/\y/\t [count=\k] in {598/1139/\Gpm, 640/1139/\Gmm, 692/1139/\Gpm, 732/1139/\Gmm, 830/1139/\Gpm, 868/1139/\Gmm, 905/1139/\Gpm, 598/1153/\Gmm, 640/1153/\Gmm, 692/1153/\Gmm, 732/1153/\Gmm, 830/1153/\Gmm, 868/1153/\Gmm, 905/1153/\Gmm, 595/1173/443, 692/1173/412, 732/1173/385, 828/1173/411, 868/1173/417, 905/1173/424}
  \node[val] (BB-v\k) at (\x,\y) {\t};
\foreach \x/\y/\t [count=\k] in {583/1248/\Gpm, 615/1248/\Gmm, 647/1248/\Gpm, 680/1248/\Gpm, 710/1248/\Gpm, 742/1248/\Gpm, 815/1248/\Gpm, 847/1248/\Gpm, 878/1248/\Gmm, 923/1248/\Gpm, 583/1262/\Gmm, 615/1262/\Gmm, 647/1262/\Gmm, 680/1262/\Gmm, 710/1262/\Gmm, 742/1262/\Gmm, 815/1262/\Gmm, 847/1262/\Gpm, 878/1262/\Gmm, 923/1262/\Gmm, 583/1280/463, 615/1280/439, 647/1280/495, 680/1280/450, 710/1280/468, 742/1280/461, 815/1280/452, 847/1280/638, 878/1280/410}
  \node[val] (BB-w\k) at (\x,\y) {\t};
\end{scope}

% ================= legend
\begin{scope}
\def\ssz{17}
\draw[frame] (27,1303) rectangle (985,1535);
\coordinate (lgA) at (106,1326);
\coordinate (lgB) at (141,1358);
\draw[prob] (lgA) -- (lgB);
\node[legt] (lt1) at (153,1340) {proband};
\node[msym] (lg21) at (86,1380) {};
\node[fsym] (lg22) at (126,1380) {};
\node[legt] (lt2) at (153,1380) {not investigated};
\node[msym,sdth] (lg31) at (86,1427) {};
\node[fsym,sdth] (lg32) at (126,1427) {};
\draw[slash] ([shift={(-5pt,-5pt)}]lg31.south west) -- ([shift={(5pt,5pt)}]lg31.north east);
\draw[slash] ([shift={(-5pt,-5pt)}]lg32.south west) -- ([shift={(5pt,5pt)}]lg32.north east);
\node[legt] (lt3) at (153,1427) {sudden death};
\node[msym, font=\fontsize{11}{11}\selectfont] (lg41) at (86,1465) {N};
\node[fsym, font=\fontsize{11}{11}\selectfont] (lg42) at (126,1465) {N};
\node[legt] (lt4) at (153,1465) {mutation absent, clinically unaffected};
\node[msym,cmpd] (lg51) at (86,1507) {};
\node[fsym,cmpd] (lg52) at (126,1507) {};
\node[legt] (lt5) at (153,1507) {compound mutation};
\node[msym,carM] (lg61) at (577,1353) {};
\node[fsym,carF] (lg62) at (617,1353) {};
\node[legt] (lt6) at (638,1353) {obligated carrier};
\node[msym,hetL] (lg71) at (577,1395) {};
\node[fsym,hetL] (lg72) at (617,1395) {};
\node[legt] (lt7) at (638,1395) {heterozygoted mutation};
\node[msym,lqts] (lg81) at (577,1432) {};
\node[fsym,lqts] (lg82) at (617,1432) {};
\node[legt] (lt8) at (638,1432) {mutation unknown, clinically LQTS};
\node[msym,thk] (lg91) at (577,1469) {};
\node[fsym,thk] (lg92) at (617,1469) {};
\node[legt] (lt9) at (638,1469) {mutation unknown, clinically normal};
\node[legt, anchor=center] (lgS) at (574,1507) {S};
\node[legt] (lt10) at (638,1507) {symptomatic patients};
\end{scope}
\end{tikzpicture}
\end{document}
